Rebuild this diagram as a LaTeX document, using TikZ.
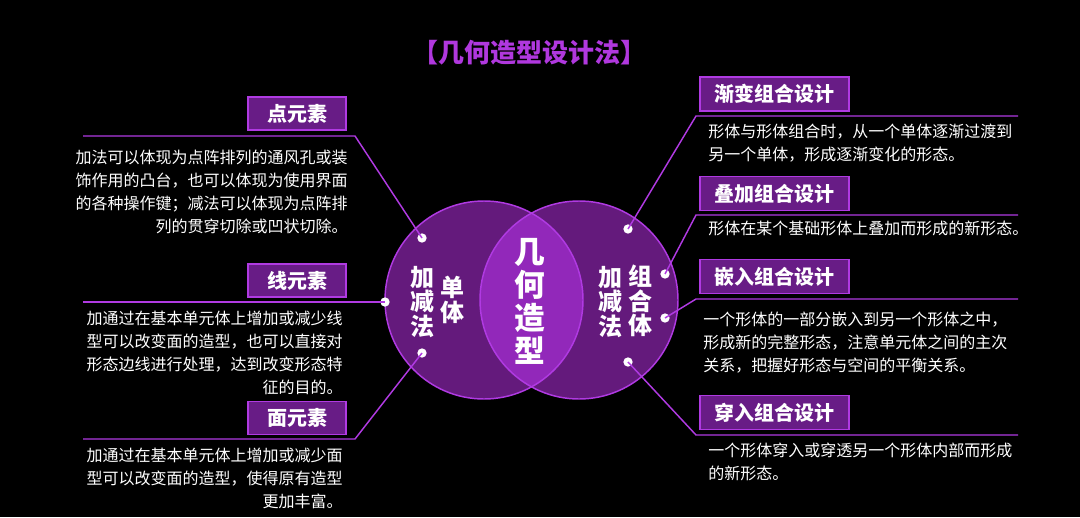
\documentclass[tikz,border=0pt]{standalone}
\usepackage{fontspec}
\setmainfont{Noto Sans CJK SC}
\usetikzlibrary{positioning}

\definecolor{ringfill}{RGB}{100,26,124}
\definecolor{lensfill}{RGB}{146,40,186}
\definecolor{edgepurple}{RGB}{176,58,226}
\definecolor{boxfill}{RGB}{104,28,134}
\definecolor{titlepurple}{RGB}{176,56,222}

\tikzset{
  elbox/.style={draw=edgepurple, fill=boxfill, line width=1.1pt, minimum width=73.5pt,
    minimum height=24.75pt, inner sep=0pt, text=white, font=\fontsize{15}{15}\selectfont\bfseries},
  combox/.style={elbox, minimum width=111.75pt, minimum height=25.5pt},
  desc/.style={text=white, inner sep=0pt, font=\fontsize{12}{17.25}\selectfont},
  conn/.style={draw=edgepurple, line width=1.1pt},
  dot/.style={circle, fill=white, inner sep=0pt, minimum size=7pt},
  ringtext/.style={text=white, inner sep=0pt, align=center, font=\fontsize{18}{18.4}\selectfont\bfseries},
}

\begin{document}
\begin{tikzpicture}[x=0.75pt, y=-0.75pt]
    % background
    \fill[black] (0,0) rectangle (1080,517);
    \useasboundingbox (0,0) rectangle (1080,517);

    % title
    \node[text=titlepurple, font=\fontsize{19.5}{19.5}\selectfont\bfseries] (title) at (529,53) {【几何造型设计法】};

    % two rings and the lens
    \fill[ringfill] (484,300) circle (99);
    \fill[ringfill] (579,300) circle (99);
    \begin{scope}
        \clip (484,300) circle (99);
        \fill[lensfill] (579,300) circle (99);
    \end{scope}
    \draw[edgepurple, line width=1.1pt] (484,300) circle (99);
    \draw[edgepurple, line width=1.1pt] (579,300) circle (99);

    % texts in the rings
    \node[ringtext] (lsub) at (422,302) {加\\减\\法};
    \node[ringtext] (lone) at (452,300) {单\\体};
    \node[ringtext, font=\fontsize{23}{24.75}\selectfont\bfseries] (core) at (530,301) {几\\何\\造\\型};
    \node[ringtext] (rsub) at (610,302) {加\\减\\法};
    \node[ringtext] (rgrp) at (640,301) {组\\合\\体};

    % dots on the rings
    \node[dot] (ldot1) at (422,238) {};
    \node[dot] (ldot2) at (385,302) {};
    \node[dot] (ldot3) at (422,353) {};
    \node[dot] (rdot1) at (628,229) {};
    \node[dot] (rdot2) at (665,274) {};
    \node[dot] (rdot3) at (665,318) {};
    \node[dot] (rdot4) at (628,362) {};

    % left side: element labels
    \node[elbox] (point) at (297,113.5) {点元素};
    \node[elbox] (line) at (297,280.5) {线元素};
    \node[elbox] (face) at (297,418) {面元素};

    \coordinate (pa) at (83,136);  \coordinate (pb) at (355,136);
    \coordinate (la) at (83,302);
    \coordinate (fa) at (83,439);  \coordinate (fb) at (355,439);
    \draw[conn] (pa) -- (pb) -- (ldot1.center);
    \draw[conn] (la) -- (ldot2.center);
    \draw[conn] (fa) -- (fb) -- (ldot3.center);

    % base anchor sits on the last line
    \node[desc, align=right, anchor=base east] (pointtxt) at (348,232)
        {加法可以体现为点阵排列的通风孔或装\\饰作用的凸台，也可以体现为使用界面\\的各种操作键；减法可以体现为点阵排\\列的贯穿切除或凹状切除。};
    \node[desc, align=right, anchor=base east] (linetxt) at (343,393)
        {加通过在基本单元体上增加或减少线\\型可以改变面的造型，也可以直接对\\形态边线进行处理，达到改变形态特\\征的目的。};
    \node[desc, align=right, anchor=base east] (facetxt) at (343,507)
        {加通过在基本单元体上增加或减少面\\型可以改变面的造型，使得原有造型\\更加丰富。};

    % right side: combination labels
    \node[combox] (grad) at (774.5,94) {渐变组合设计};
    \node[combox] (stack) at (774.5,193.5) {叠加组合设计};
    \node[combox] (embed) at (774.5,276.5) {嵌入组合设计};
    \node[combox] (pierce) at (774.5,412.5) {穿入组合设计};

    \coordinate (ga) at (1018,116); \coordinate (gb) at (696,116);
    \coordinate (sa) at (1018,215); \coordinate (sb) at (696,215);
    \coordinate (ea) at (1018,299); \coordinate (eb) at (696,299);
    \coordinate (ca) at (1018,435); \coordinate (cb) at (696,435);
    \draw[conn] (ga) -- (gb) -- (rdot1.center);
    \draw[conn] (sa) -- (sb) -- (rdot2.center);
    \draw[conn] (ea) -- (eb) -- (rdot3.center);
    \draw[conn] (ca) -- (cb) -- (rdot4.center);

    \node[desc, align=left, anchor=base west] (gradtxt) at (708,160)
        {形体与形体组合时，从一个单体逐渐过渡到\\另一个单体，形成逐渐变化的形态。};
    \node[desc, align=left, anchor=base west] (stacktxt) at (708,234)
        {形体在某个基础形体上叠加而形成的新形态。};
    \node[desc, align=left, anchor=base west] (embedtxt) at (703,371)
        {一个形体的一部分嵌入到另一个形体之中，\\形成新的完整形态，注意单元体之间的主次\\关系，把握好形态与空间的平衡关系。};
    \node[desc, align=left, anchor=base west] (piercetxt) at (708,479)
        {一个形体穿入或穿透另一个形体内部而形成\\的新形态。};
\end{tikzpicture}
\end{document}
